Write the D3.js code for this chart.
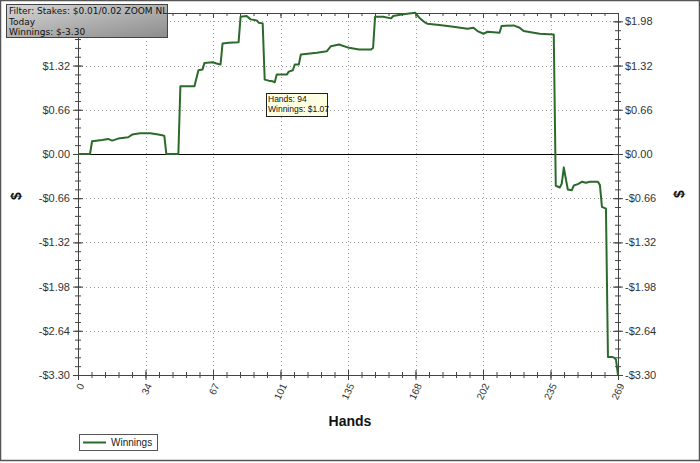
<!DOCTYPE html>
<html><head><meta charset="utf-8">
<script src="https://cdn.jsdelivr.net/npm/d3@7"></script>
<style>body{margin:0;background:#fff} svg{display:block}</style>
</head><body><svg id="c" width="700" height="463"></svg>
<script>
const hands = [0,6,7,12,15,17,20,25,27,31,36,40,42,43,44,50,51,58,59,60,62,63,67,69,71,72,75,80,81,84,86,89,90,92,93,95,97,98,99,104,105,107,108,110,111,119,124,126,130,135,140,146,147,148,152,156,157,162,168,170,173,174,180,187,194,197,199,202,204,210,211,217,220,222,227,230,237,238,240,241,242,243,244,246,247,249,251,253,255,259,260,261,263,264,266,267,268,269];
const winnings = [0,0,0.19,0.21,0.225,0.20,0.23,0.25,0.29,0.31,0.31,0.29,0.28,0.27,0,0,1.01,1.01,1.13,1.25,1.26,1.36,1.37,1.35,1.335,1.65,1.66,1.67,2.05,2.06,2.01,1.995,1.96,1.95,1.11,1.095,1.085,1.07,1.185,1.185,1.23,1.25,1.335,1.335,1.485,1.51,1.535,1.61,1.635,1.585,1.56,1.56,1.585,2.05,2.05,2.025,2.06,2.085,2.11,2.035,1.96,1.945,1.925,1.9,1.87,1.885,1.835,1.795,1.825,1.81,1.91,1.92,1.885,1.835,1.81,1.795,1.785,-0.475,-0.5,-0.44,-0.2,-0.37,-0.53,-0.54,-0.47,-0.45,-0.415,-0.43,-0.415,-0.415,-0.465,-0.79,-0.815,-3.03,-3.03,-3.04,-3.07,-3.30];
const xTickLabels = ["0","34","67","101","135","168","202","235","269"];
const yTickValues = [-3.30,-2.64,-1.98,-1.32,-0.66,0,0.66,1.32,1.98];
const yTickLabels = ["-$3.30","-$2.64","-$1.98","-$1.32","-$0.66","$0.00","$0.66","$1.32","$1.98"];
const infoLines = ["Filter: Stakes: $0.01/0.02 ZOOM NL","Today","Winnings: $-3.30"];
const tooltipLines = ["Hands: 94","Winnings: $1.07"];
const seriesName = "Winnings";
const xTitle = "Hands", yTitle = "$";

const L=78, R=618, T=13, B=375;
const xMax = 269, yMin = -3.30, yMax = 2.105;
const x = d3.scaleLinear().domain([0,xMax]).range([L,R]);
const y = d3.scaleLinear().domain([yMin,yMax]).range([B,T]);
const svg = d3.select("#c");
const font = "'Liberation Sans', Arial, sans-serif";
const lineColor = "#2b6a2b";

svg.append("rect").attr("x",0.5).attr("y",0.5).attr("width",699).attr("height",460)
  .attr("fill","#fff").attr("stroke","#555").attr("stroke-width",1.5);

const xMajor = d3.range(9).map(i => i*xMax/8);
const xMinor = d3.range(41).map(i => i*xMax/40);
const yMinor = d3.range(0, 42).map(i => yMin + i*0.132).filter(v => v <= yMax+1e-9);

// grid
const grid = svg.append("g").attr("stroke","#9a9a9a").attr("stroke-dasharray","1,3").attr("stroke-width",1);
grid.selectAll(".vg").data(xMajor.slice(1,-1)).join("line")
  .attr("x1",d=>Math.round(x(d))+0.5).attr("x2",d=>Math.round(x(d))+0.5).attr("y1",T).attr("y2",B);
grid.selectAll(".hg").data(yTickValues.filter(v=>v!==0 && v!==yMin)).join("line")
  .attr("y1",d=>Math.round(y(d))+0.5).attr("y2",d=>Math.round(y(d))+0.5).attr("x1",L).attr("x2",R);

// zero line
svg.append("line").attr("x1",L).attr("x2",R).attr("y1",Math.round(y(0))+0.5).attr("y2",Math.round(y(0))+0.5)
  .attr("stroke","#000").attr("stroke-width",1);

function styleAxis(g){
  g.select(".domain").attr("stroke","#444");
  g.selectAll(".tick line").attr("stroke","#444");
  g.selectAll("text").attr("fill","#333").style("font-family",font);
}
// bottom axis
const gxMinor = svg.append("g").attr("transform",`translate(0,${B})`)
  .call(d3.axisBottom(x).tickValues(xMinor).tickSize(3).tickFormat("").tickSizeOuter(0));
gxMinor.selectAll(".tick line").attr("y1",-3);
styleAxis(gxMinor);
const gx = svg.append("g").attr("transform",`translate(0,${B})`)
  .call(d3.axisBottom(x).tickValues(xMajor).tickSize(5).tickSizeOuter(0).tickFormat((d,i)=>xTickLabels[i]));
gx.selectAll(".tick line").attr("y1",-5);
gx.selectAll("text").attr("x",0).attr("y",0).attr("dy","0.35em")
  .attr("transform","translate(3,9) rotate(-65)").style("text-anchor","end").style("font-size","10px");
styleAxis(gx);

// top axis
const gtMinor = svg.append("g").attr("transform",`translate(0,${T})`)
  .call(d3.axisTop(x).tickValues(xMinor).tickSize(-3).tickFormat("").tickSizeOuter(0));
styleAxis(gtMinor);
const gt = svg.append("g").attr("transform",`translate(0,${T})`)
  .call(d3.axisTop(x).tickValues(xMajor).tickSize(-5).tickFormat("").tickSizeOuter(0));
styleAxis(gt);

// left axis
const glMinor = svg.append("g").attr("transform",`translate(${L},0)`)
  .call(d3.axisLeft(y).tickValues(yMinor).tickSize(3).tickFormat("").tickSizeOuter(0));
glMinor.selectAll(".tick line").attr("x1",3);
styleAxis(glMinor);
const gl = svg.append("g").attr("transform",`translate(${L},0)`)
  .call(d3.axisLeft(y).tickValues(yTickValues).tickSize(5).tickSizeOuter(0).tickFormat((d,i)=>yTickLabels[i]));
gl.selectAll(".tick line").attr("x1",5);
gl.selectAll("text").attr("x",-8).style("font-size","11px");
styleAxis(gl);

// right axis
const grMinor = svg.append("g").attr("transform",`translate(${R},0)`)
  .call(d3.axisRight(y).tickValues(yMinor).tickSize(3).tickFormat("").tickSizeOuter(0));
grMinor.selectAll(".tick line").attr("x1",-3);
styleAxis(grMinor);
const gr = svg.append("g").attr("transform",`translate(${R},0)`)
  .call(d3.axisRight(y).tickValues(yTickValues).tickSize(5).tickSizeOuter(0).tickFormat((d,i)=>yTickLabels[i]));
gr.selectAll(".tick line").attr("x1",-5);
gr.selectAll("text").attr("x",7).style("font-size","11px");
styleAxis(gr);

// series
const pts = hands.map((h,i)=>[h,winnings[i]]);
svg.append("path").datum(pts)
  .attr("d", d3.line().x(d=>x(d[0])).y(d=>y(d[1])))
  .attr("fill","none").attr("stroke",lineColor).attr("stroke-width",2).attr("stroke-linejoin","round");

// titles
svg.append("text").attr("x",350).attr("y",426).attr("text-anchor","middle")
  .style("font-family",font).style("font-weight","bold").style("font-size","14px").attr("fill","#111").text(xTitle);
svg.append("text").attr("transform","translate(21,196) rotate(-90)").attr("text-anchor","middle")
  .style("font-family",font).style("font-weight","bold").style("font-size","14px").attr("fill","#111").text(yTitle);
svg.append("text").attr("transform","translate(684,194) rotate(-90)").attr("text-anchor","middle")
  .style("font-family",font).style("font-weight","bold").style("font-size","14px").attr("fill","#111").text(yTitle);

// legend
const lg = svg.append("g");
lg.append("rect").attr("x",79.5).attr("y",434.5).attr("width",78).attr("height",16)
  .attr("fill","#fff").attr("stroke","#555");
lg.append("line").attr("x1",83).attr("x2",106).attr("y1",442.5).attr("y2",442.5).attr("stroke",lineColor).attr("stroke-width",2);
lg.append("text").attr("x",111).attr("y",446).style("font-family",font).style("font-size","10px").attr("fill","#222").text(seriesName);

// info box
const defs = svg.append("defs");
const gr1 = defs.append("linearGradient").attr("id","ib").attr("x1","0").attr("y1","0").attr("x2","1").attr("y2","1");
gr1.append("stop").attr("offset","0%").attr("stop-color","#d6d6d6");
gr1.append("stop").attr("offset","100%").attr("stop-color","#8c8c8c");
svg.append("rect").attr("x",6.5).attr("y",4.5).attr("width",161).attr("height",33)
  .attr("fill","url(#ib)").attr("stroke","#444");
svg.append("g").selectAll("text").data(infoLines).join("text")
  .attr("x",9).attr("y",(d,i)=>14+i*10.5).style("font-family","'DejaVu Sans', sans-serif").style("font-size","9px").attr("fill","#111")
  .text(d=>d);

// tooltip
svg.append("rect").attr("x",266.5).attr("y",93.5).attr("width",61).attr("height",23)
  .attr("fill","#ffffe1").attr("stroke","#222");
svg.append("g").selectAll("text").data(tooltipLines).join("text")
  .attr("x",268).attr("y",(d,i)=>102+i*10).style("font-family",font).style("font-size","8.5px").attr("fill","#111")
  .text(d=>d);
</script></body></html>
